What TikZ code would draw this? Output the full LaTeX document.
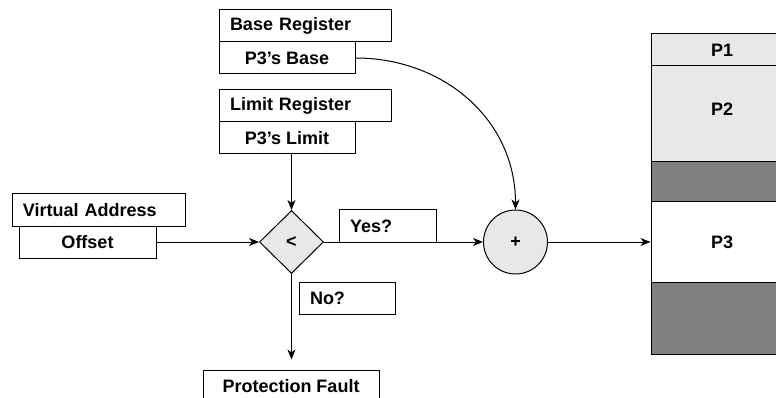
\documentclass[tikz,border=0pt]{standalone}
\usepackage{fontspec}
\setmainfont{Liberation Sans}
\usetikzlibrary{shapes.geometric,arrows.meta}
\definecolor{lgray}{HTML}{E8E8E8}
\definecolor{dgray}{HTML}{808080}
\begin{document}
\begin{tikzpicture}[x=1pt,y=-1pt, line width=1pt,
  font=\fontsize{18}{20}\selectfont\bfseries,
  box/.style={draw, rectangle, inner sep=0pt, minimum height=32pt},
  lbox/.style={box, align=left, inner xsep=11pt, text width=#1},
  cbox/.style={box, minimum width=#1},
  mem/.style={draw, rectangle, inner sep=0pt, minimum width=142pt},
  arr/.style={-{Stealth[length=10pt,width=8pt,inset=3pt]}}]
\useasboundingbox (0,0) rectangle (776,398);
\clip (0,0) rectangle (776,398);
% registers
\node[lbox=150pt] (basereg) at (305,26) {Base Register};
\node[cbox=136pt] (p3base) at (287,58) {P3’s Base};
\node[lbox=150pt] (limreg) at (305,106) {Limit Register};
\node[cbox=136pt] (p3limit) at (287,138) {P3’s Limit};
% virtual address
\node[lbox=151pt] (va) at (98.5,210) {Virtual Address};
\node[cbox=137pt] (offset) at (87.5,242) {Offset};
% comparison
\node[draw, diamond, fill=lgray, inner sep=0pt, minimum width=64pt, minimum height=63pt] (cmp) at (291.5,242) {<};
\node[draw, circle, fill=lgray, inner sep=0pt, minimum size=64pt] (add) at (515.5,242) {+};
\node[lbox=75pt] (yes) at (387.5,226) {Yes?};
\node[lbox=74pt] (no) at (347,298) {No?};
\node[cbox=176pt] (pf) at (291,386) {Protection Fault};
% memory
\node[mem, fill=lgray, minimum height=32pt] (m1) at (722,50) {P1};
\node[mem, fill=lgray, minimum height=96pt] (m2) at (722,114) {};
\node (m2t) at (722,109) {P2};
\node[mem, fill=dgray, minimum height=40pt] (m2g) at (722,182) {};
\node[mem, fill=white, minimum height=80pt] (m3) at (722,242) {P3};
\node[mem, fill=dgray, minimum height=72pt] (m3g) at (722,318) {};
% connectors
\draw[arr] (offset.east) -- (cmp.west);
\draw[arr] (cmp.north |- p3limit.south) -- (cmp.north);
\draw[arr] (cmp.east) -- (add.west);
\draw[arr, shorten >=10pt] (cmp.south) -- (cmp.south |- pf.north);
\draw[arr] (add.east) -- (m3.west);
\draw[arr] (p3base.east) .. controls +(88,0) and +(0,-90) .. (add.north);
\end{tikzpicture}
\end{document}
